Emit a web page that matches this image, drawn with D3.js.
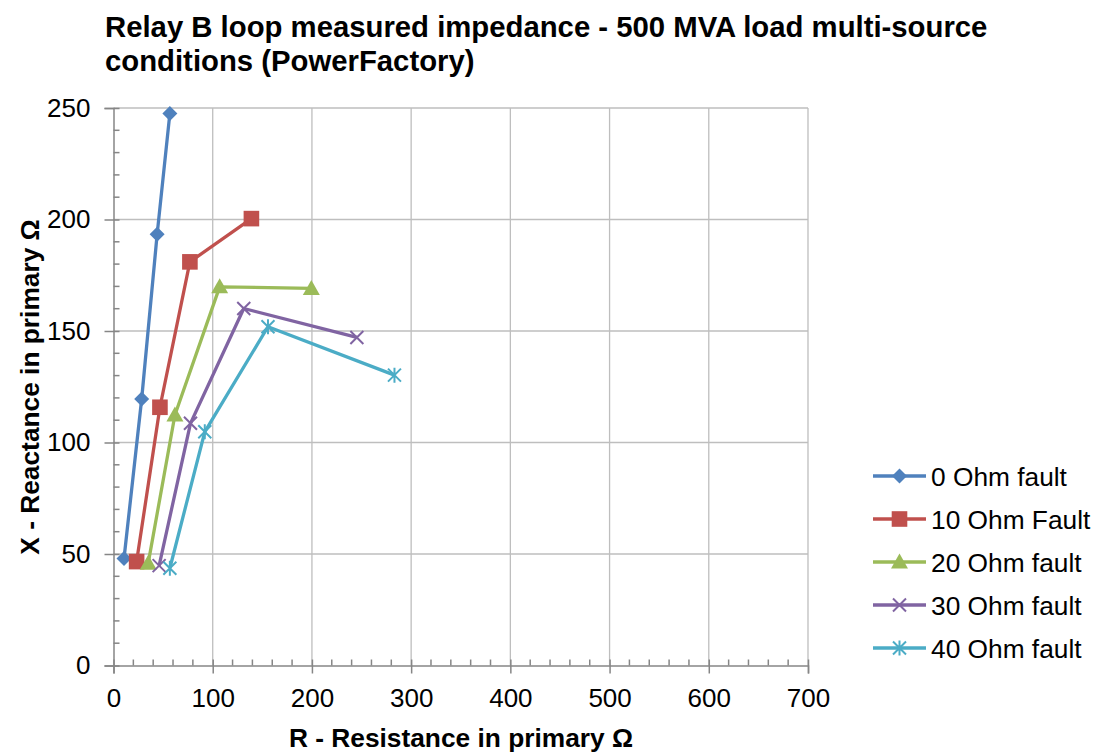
<!DOCTYPE html>
<html><head><meta charset="utf-8">
<script src="https://cdn.jsdelivr.net/npm/d3@7"></script>
<style>body{margin:0;background:#fff;font-family:Arial,"Liberation Sans",sans-serif}</style>
</head><body><svg id="c" width="1100" height="753"></svg>
<script>
const seriesNames = ["0 Ohm fault","10 Ohm Fault","20 Ohm fault","30 Ohm fault","40 Ohm fault"];
const seriesColors = ["#4F81BD","#C0504D","#9BBB59","#8064A2","#4BACC6"];
const seriesMarkers = ["diamond","square","triangle","x","star"];
const r0 = [10.6, 28.4, 44.0, 56.8];   const x0 = [48.0, 119.5, 193.4, 247.5];
const r10 = [23.3, 46.8, 77.0, 139.0]; const x10 = [46.6, 115.8, 181.0, 200.4];
const r20 = [35.0, 61.9, 107.0, 199.4]; const x20 = [45.9, 112.3, 169.8, 169.1];
const r30 = [46.0, 77.6, 131.3, 245.3]; const x30 = [44.8, 108.6, 160.1, 147.1];
const r40 = [56.8, 92.0, 155.7, 283.2]; const x40 = [43.6, 104.8, 151.9, 130.2];
const xTicks = [0,100,200,300,400,500,600,700];
const yTicks = [0,50,100,150,200,250];
const seriesR = [r0,r10,r20,r30,r40], seriesX = [x0,x10,x20,x30,x40];

const svg = d3.select("#c");
const FF = "Arial, 'Liberation Sans', sans-serif";
const L=113.5, R=808, T=108, B=665.5;
const xs = d3.scaleLinear().domain([0,700]).range([L,R]);
const ys = d3.scaleLinear().domain([0,250]).range([B,T]);
const grid="#BEBEBE", axc="#868686";

svg.append("g").selectAll("line").data(xTicks.slice(1)).join("line")
  .attr("x1",d=>xs(d)).attr("x2",d=>xs(d)).attr("y1",T).attr("y2",B)
  .attr("stroke",grid).attr("stroke-width",1.3);
svg.append("g").selectAll("line").data(yTicks.slice(1)).join("line")
  .attr("x1",L).attr("x2",R).attr("y1",d=>ys(d)).attr("y2",d=>ys(d))
  .attr("stroke",grid).attr("stroke-width",1.3);

const xAx = svg.append("g").attr("transform",`translate(0,${B})`)
  .call(d3.axisBottom(xs).tickValues(xTicks).tickSize(8).tickPadding(15));
const yAx = svg.append("g").attr("transform",`translate(${L},0)`)
  .call(d3.axisLeft(ys).tickValues(yTicks).tickSize(9).tickPadding(14));
[xAx,yAx].forEach(a=>{
  a.select(".domain").attr("stroke",axc).attr("stroke-width",1.5);
  a.selectAll(".tick line").attr("stroke",axc).attr("stroke-width",1.5);
  a.selectAll("text").attr("font-size",26).attr("font-family",FF).attr("fill","#000");
});
xAx.selectAll(".tick line").attr("y1",-6);
yAx.selectAll(".tick line").attr("x1",6);
const xMinor = d3.range(0,701,20).filter(v=>v%100!==0);
const yMinor = d3.range(0,251,10).filter(v=>v%50!==0);
svg.append("g").selectAll("line").data(xMinor).join("line")
  .attr("x1",d=>xs(d)).attr("x2",d=>xs(d)).attr("y1",B-6).attr("y2",B)
  .attr("stroke",axc).attr("stroke-width",1.5);
svg.append("g").selectAll("line").data(yMinor).join("line")
  .attr("x1",L).attr("x2",L+6).attr("y1",d=>ys(d)).attr("y2",d=>ys(d))
  .attr("stroke",axc).attr("stroke-width",1.5);

function marker(g, type, color, cx, cy){
  if(type==="diamond"){
    g.append("path").attr("d",`M${cx},${cy-7.5}L${cx+7.5},${cy}L${cx},${cy+7.5}L${cx-7.5},${cy}Z`).attr("fill",color);
  } else if(type==="square"){
    g.append("rect").attr("x",cx-7.8).attr("y",cy-7.8).attr("width",15.6).attr("height",15.6).attr("fill",color);
  } else if(type==="triangle"){
    g.append("path").attr("d",`M${cx},${cy-8.5}L${cx+8.5},${cy+6.5}L${cx-8.5},${cy+6.5}Z`).attr("fill",color);
  } else if(type==="x"){
    g.append("path").attr("d",`M${cx-6.5},${cy-6.5}L${cx+6.5},${cy+6.5}M${cx-6.5},${cy+6.5}L${cx+6.5},${cy-6.5}`)
      .attr("stroke",color).attr("stroke-width",2).attr("fill","none");
  } else if(type==="star"){
    g.append("path").attr("d",`M${cx-6.5},${cy-6.5}L${cx+6.5},${cy+6.5}M${cx-6.5},${cy+6.5}L${cx+6.5},${cy-6.5}M${cx},${cy-7.5}L${cx},${cy+7.5}`)
      .attr("stroke",color).attr("stroke-width",2).attr("fill","none");
  }
}

const line = d3.line().x(d=>xs(d[0])).y(d=>ys(d[1]));
seriesR.forEach((rs,i)=>{
  const pts = rs.map((r,j)=>[r, seriesX[i][j]]);
  const g = svg.append("g");
  g.append("path").datum(pts).attr("d",line).attr("fill","none")
    .attr("stroke",seriesColors[i]).attr("stroke-width",3.3).attr("stroke-linejoin","round");
  pts.forEach(p=>marker(g, seriesMarkers[i], seriesColors[i], xs(p[0]), ys(p[1])));
});

const legY = [476,519,562,605,648];
seriesNames.forEach((n,i)=>{
  const g = svg.append("g");
  g.append("line").attr("x1",873).attr("x2",926).attr("y1",legY[i]).attr("y2",legY[i])
    .attr("stroke",seriesColors[i]).attr("stroke-width",3.3);
  marker(g, seriesMarkers[i], seriesColors[i], 899.5, legY[i]);
  g.append("text").attr("x",931).attr("y",legY[i]+9.5).attr("font-size",26.3)
    .attr("font-family",FF).text(n);
});

const tt = svg.append("text").attr("font-size",29.3).attr("font-weight","bold").attr("font-family",FF);
tt.append("tspan").attr("x",105).attr("y",37).text("Relay B loop measured impedance - 500 MVA load multi-source");
tt.append("tspan").attr("x",105).attr("y",71).text("conditions (PowerFactory)");
svg.append("text").attr("x",461).attr("y",747).attr("text-anchor","middle").attr("font-family",FF)
  .attr("font-size",26.3).attr("font-weight","bold").text("R - Resistance in primary Ω");
svg.append("text").attr("transform","translate(39,387) rotate(-90)").attr("text-anchor","middle").attr("font-family",FF)
  .attr("font-size",26.3).attr("font-weight","bold").text("X - Reactance in primary Ω");
</script></body></html>
